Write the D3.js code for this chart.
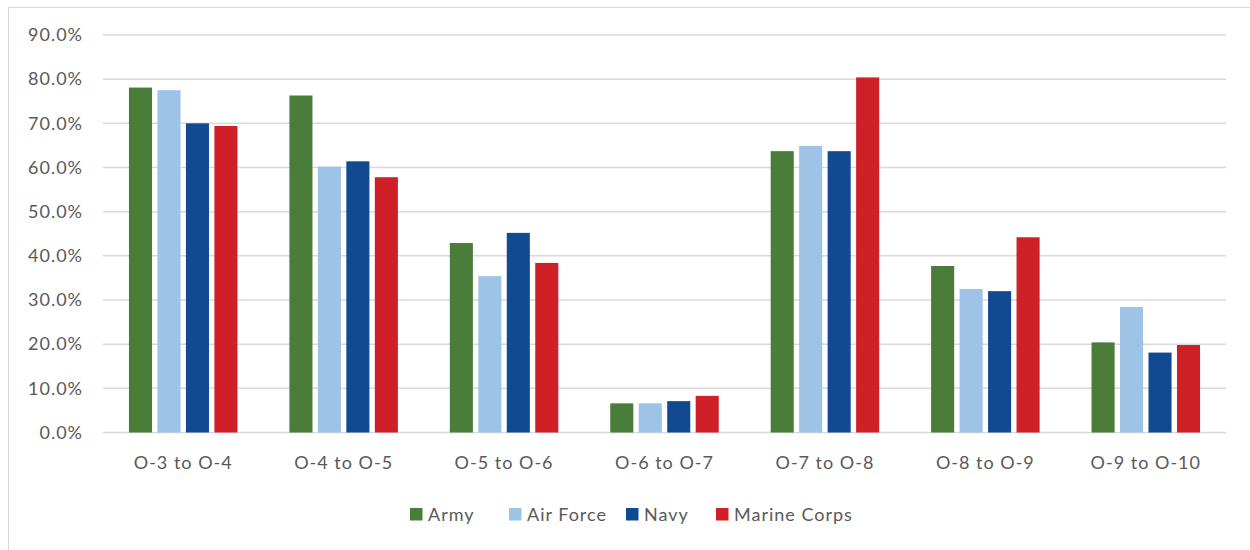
<!DOCTYPE html>
<html><head><meta charset="utf-8">
<script src="https://cdn.jsdelivr.net/npm/d3@7"></script>
<style>body{margin:0;background:#fff}svg{display:block}</style>
</head><body>
<svg id="c" width="1250" height="550"></svg>
<script>
const categories = ["O-3 to O-4","O-4 to O-5","O-5 to O-6","O-6 to O-7","O-7 to O-8","O-8 to O-9","O-9 to O-10"];
const seriesNames = ["Army","Air Force","Navy","Marine Corps"];
const seriesColors = ["#4a7c3a","#9dc3e6","#124a92","#cf1f27"];
const army = [78.1,76.3,42.9,6.6,63.7,37.7,20.4];
const airForce = [77.5,60.2,35.4,6.6,64.9,32.5,28.4];
const navy = [70.0,61.4,45.2,7.1,63.7,32.0,18.1];
const marineCorps = [69.4,57.8,38.4,8.3,80.4,44.2,19.8];
const yTicks = [0,10,20,30,40,50,60,70,80,90];

(function(){
const values = [army, airForce, navy, marineCorps];
const svg = d3.select("#c");
const font = "Lato, 'Open Sans', sans-serif";
const textColor = "#595959";
const ls = "1px";

svg.append("rect").attr("x",8.5).attr("y",7.5).attr("width",1260).attr("height",560)
  .attr("fill","none").attr("stroke","#d9d9d9").attr("stroke-width",1);

const pLeft = 103, pRight = 1226, pTop = 35, pBottom = 432.5;
const x0 = d3.scaleBand().domain(categories).range([pLeft,pRight]).padding(0);
const x1 = d3.scaleBand().domain(seriesNames).range([-54.25,54.25]).paddingInner(0.19).paddingOuter(0);
const y = d3.scaleLinear().domain([0,90]).range([pBottom,pTop]);

svg.append("g").selectAll("line").data(yTicks).join("line")
  .attr("x1",pLeft).attr("x2",pRight)
  .attr("y1",d=>y(d)).attr("y2",d=>y(d))
  .attr("stroke","#d9d9d9").attr("stroke-width",1.5);

const yAxis = d3.axisLeft(y).tickValues(yTicks).tickSize(0).tickPadding(0)
  .tickFormat(d=>d.toFixed(1)+"%");
const ya = svg.append("g").attr("transform",`translate(${83},0)`).call(yAxis);
ya.select(".domain").remove();
ya.selectAll("text").attr("font-family",font).attr("font-size",18).attr("letter-spacing",ls).attr("fill",textColor);

const groups = svg.append("g").selectAll("g").data(categories).join("g")
  .attr("transform",d=>`translate(${x0(d)+x0.bandwidth()/2},0)`);
groups.selectAll("rect").data((c,i)=>seriesNames.map((s,j)=>({s,j,v:values[j][i]}))).join("rect")
  .attr("x",d=>x1(d.s)).attr("width",x1.bandwidth())
  .attr("y",d=>y(d.v)).attr("height",d=>y(0)-y(d.v))
  .attr("fill",d=>seriesColors[d.j]);

const xAxis = d3.axisBottom(x0).tickSize(0).tickPadding(0);
const xa = svg.append("g").attr("transform",`translate(0,${pBottom+24})`).call(xAxis);
xa.select(".domain").remove();
xa.selectAll("text").attr("font-family",font).attr("font-size",18).attr("letter-spacing",ls).attr("fill",textColor);

const legendX = [410,509,626,716];
const lg = svg.append("g").selectAll("g").data(seriesNames).join("g")
  .attr("transform",(d,i)=>`translate(${legendX[i]},${508})`);
lg.append("rect").attr("width",12.5).attr("height",12.5).attr("fill",(d,i)=>seriesColors[i]);
lg.append("text").attr("x",18).attr("y",6.5).attr("dy","0.35em")
  .attr("font-family",font).attr("font-size",18).attr("letter-spacing",ls).attr("fill",textColor).text(d=>d);
})();
</script>
</body></html>
